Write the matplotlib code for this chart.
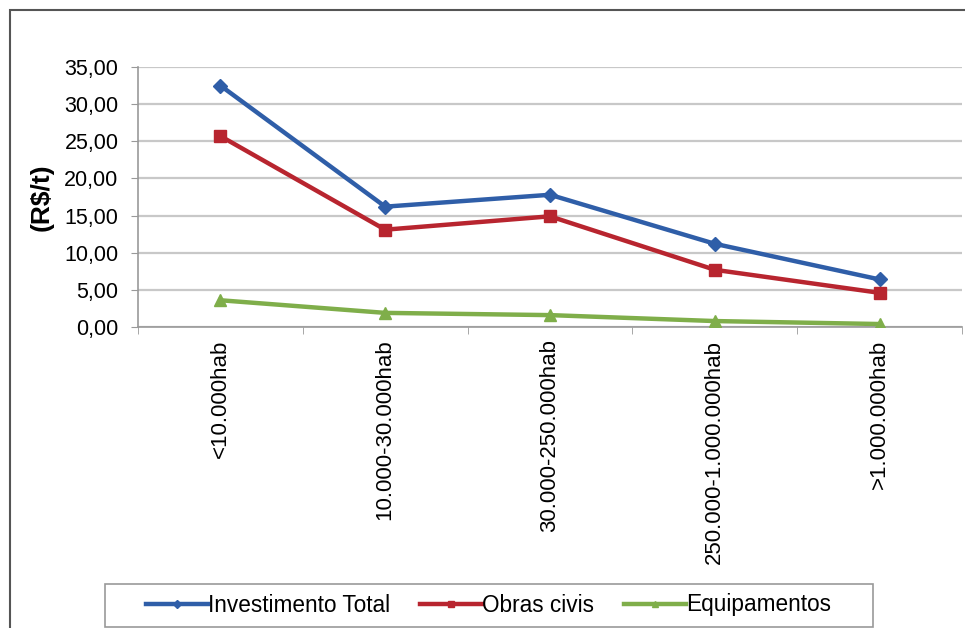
import matplotlib.pyplot as plt
from matplotlib.patches import Rectangle
from matplotlib.ticker import FuncFormatter, MultipleLocator

# custo por tonelada segundo o porte do municipio
faixas = ['<10.000hab', '10.000-30.000hab', '30.000-250.000hab',
          '250.000-1.000.000hab', '>1.000.000hab']
investimento_total = [32.5, 16.2, 17.8, 11.2, 6.4]
obras_civis = [25.7, 13.1, 14.9, 7.7, 4.6]
equipamentos = [3.6, 1.9, 1.6, 0.8, 0.4]

plt.rcParams['font.family'] = ['Liberation Sans', 'DejaVu Sans']

W, H = 965, 628
fig = plt.figure(figsize=(W / 100, H / 100), dpi=100)

# moldura externa do grafico
fig.patches.append(Rectangle((10 / W, -0.01), 1.0, 1 - 10 / H + 0.01,
                             transform=fig.transFigure, fill=False,
                             edgecolor='#555555', linewidth=1.5))

ax = fig.add_axes([138 / W, 1 - 327 / H, (962 - 138) / W, (327 - 67) / H])

x = range(len(faixas))
ax.plot(x, investimento_total, color='#2f5ea8', lw=3.2, marker='D', ms=7,
        label='Investimento Total', zorder=3)
ax.plot(x, obras_civis, color='#b8252f', lw=3.2, marker='s', ms=8,
        label='Obras civis', zorder=3)
ax.plot(x, equipamentos, color='#7fae4a', lw=3.2, marker='^', ms=9,
        label='Equipamentos', zorder=3)

ax.set_xlim(-0.5, len(faixas) - 0.5)
ax.set_ylim(0, 35)
ax.yaxis.set_major_locator(MultipleLocator(5))
ax.yaxis.set_major_formatter(FuncFormatter(lambda v, _: f'{v:.2f}'.replace('.', ',')))
ax.grid(axis='y', color='#c8c8c8', lw=1.6)
ax.set_axisbelow(True)

ax.set_xticks(list(x))
ax.set_xticklabels(faixas, rotation=90, fontsize=16, va='top')
ax.tick_params(axis='x', length=0, pad=9)
ax.set_xticks([i + 0.5 for i in range(-1, len(faixas))], minor=True)
ax.tick_params(axis='x', which='minor', length=5, color='#999999', direction='out')
ax.tick_params(axis='y', labelsize=15.5, length=5, color='#999999', pad=9)

for s in ['top', 'right']:
    ax.spines[s].set_visible(False)
for s in ['left', 'bottom']:
    ax.spines[s].set_color('#999999')
    ax.spines[s].set_linewidth(1.2)

ax.set_ylabel('(R$/t)', fontsize=19, fontweight='bold', labelpad=8)

# legenda sem moldura propria, caixa desenhada a parte
leg = fig.legend(loc='center left', bbox_to_anchor=(146 / W, 1 - 605 / H), ncol=3,
                 fontsize=16.3, frameon=False, handlelength=2.75,
                 columnspacing=1.3, handletextpad=0.0, markerscale=0.55,
                 borderpad=0, borderaxespad=0)
fig.patches.append(Rectangle((105 / W, 1 - 627 / H), (873 - 105) / W, (627 - 584) / H,
                             transform=fig.transFigure, fill=False,
                             edgecolor='#999999', linewidth=1.2))

fig.savefig('out.png', dpi=100)
